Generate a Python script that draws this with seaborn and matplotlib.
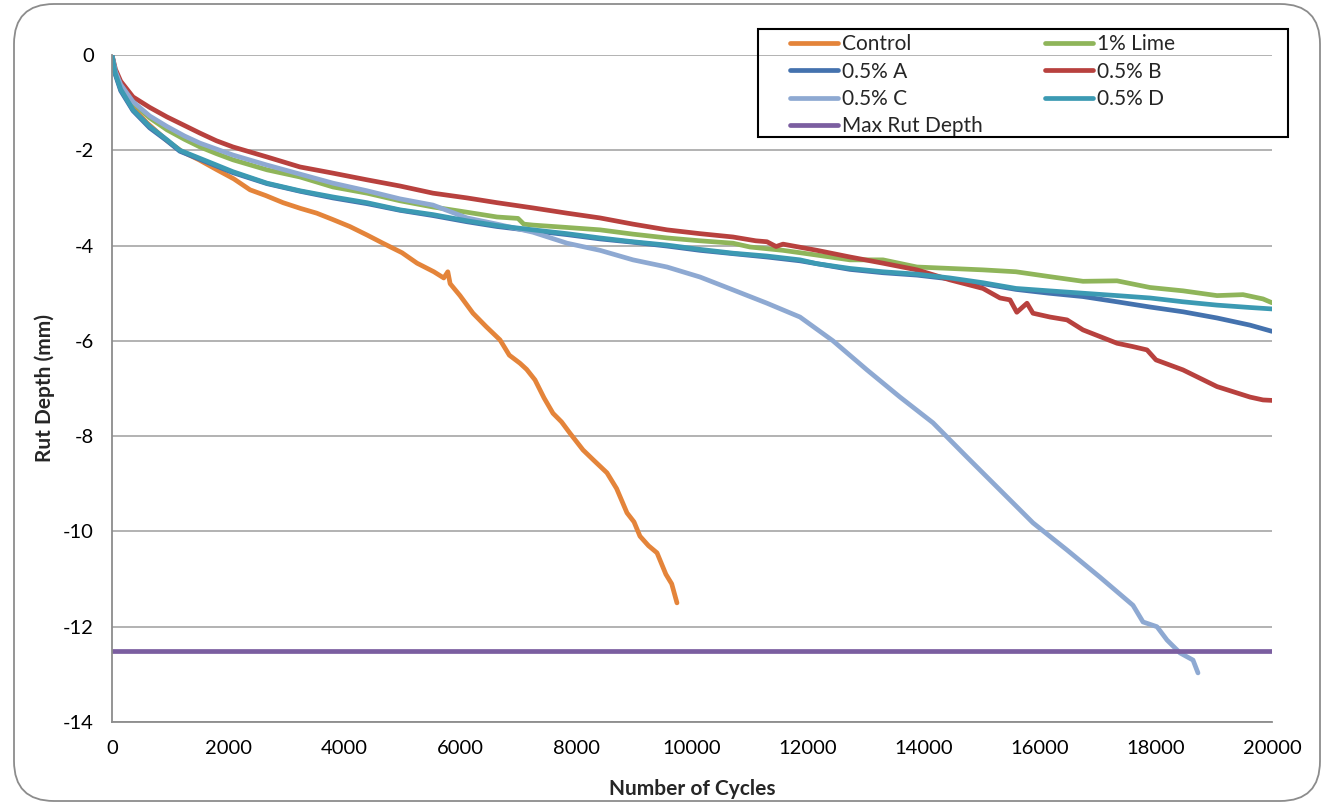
import matplotlib
matplotlib.use("Agg")
import matplotlib.pyplot as plt
from matplotlib.patches import FancyBboxPatch, Rectangle
import seaborn as sns
import pandas as pd

# ---------------- data ----------------
control_x = [0, 50, 150, 350, 600, 950, 1200, 1500, 1810, 2100, 2380, 2650, 2950, 3250, 3530,
             3800, 4100, 4400, 4670, 5000, 5260, 5550, 5720, 5790, 5830, 6000, 6224, 6450, 6690,
             6850, 7034, 7150, 7293, 7450, 7603, 7750, 7897, 8121, 8300, 8534, 8700, 8879, 9000,
             9103, 9250, 9397, 9550, 9650, 9741]
control_y = [0, -0.35, -0.7, -1.08, -1.42, -1.8, -2.02, -2.2, -2.41, -2.6, -2.83, -2.95, -3.1,
             -3.22, -3.32, -3.45, -3.6, -3.78, -3.95, -4.15, -4.37, -4.55, -4.68, -4.55, -4.8,
             -5.05, -5.42, -5.7, -5.98, -6.3, -6.47, -6.6, -6.82, -7.2, -7.52, -7.7, -7.94,
             -8.29, -8.5, -8.77, -9.1, -9.61, -9.8, -10.1, -10.3, -10.45, -10.9, -11.1, -11.5]

lime_x = [0, 60, 150, 362, 650, 948, 1250, 1517, 1800, 2086, 2672, 3241, 3810, 4397, 4966, 5534,
          6121, 6638, 7000, 7100, 7259, 7845, 8414, 8983, 9569, 10138, 10707, 11000, 11569,
          12155, 12724, 13293, 13879, 14448, 15017, 15586, 16155, 16741, 17328, 17897, 18466,
          19052, 19500, 19845, 20000]
lime_y = [0, -0.4, -0.65, -1.0, -1.32, -1.57, -1.77, -1.93, -2.07, -2.2, -2.41, -2.56, -2.77,
          -2.9, -3.06, -3.19, -3.3, -3.4, -3.43, -3.55, -3.57, -3.62, -3.67, -3.76, -3.84, -3.9,
          -3.95, -4.03, -4.1, -4.2, -4.3, -4.3, -4.45, -4.48, -4.51, -4.55, -4.65, -4.75, -4.74,
          -4.88, -4.95, -5.05, -5.03, -5.12, -5.2]

a_x = [0, 60, 150, 362, 650, 948, 1170, 1517, 2086, 2672, 3241, 3810, 4397, 4966, 5534, 6121,
       6638, 7259, 7845, 8414, 8983, 9569, 10138, 10707, 11293, 11862, 12724, 13293, 13879,
       14448, 15017, 15586, 16155, 16741, 17328, 17897, 18466, 19052, 19621, 20000]
a_y = [0, -0.42, -0.75, -1.17, -1.53, -1.8, -2.02, -2.19, -2.47, -2.7, -2.86, -3.0, -3.12,
       -3.26, -3.37, -3.5, -3.6, -3.69, -3.77, -3.86, -3.93, -4.01, -4.1, -4.17, -4.24, -4.32,
       -4.5, -4.57, -4.62, -4.7, -4.8, -4.92, -5.0, -5.07, -5.18, -5.29, -5.39, -5.52, -5.67,
       -5.8]

b_x = [0, 60, 150, 362, 650, 948, 1250, 1517, 1800, 2086, 2672, 3241, 3810, 4397, 4966, 5534,
       6121, 6638, 7259, 7845, 8414, 8983, 9569, 10138, 10707, 11100, 11293, 11450,
       11569, 12155, 12724, 13293, 13879, 14448, 15017, 15310, 15483, 15600, 15776, 15879,
       16172, 16466, 16741, 17328, 17600, 17845, 18000, 18466, 19052, 19621, 19845, 20000]
b_y = [0, -0.3, -0.55, -0.88, -1.1, -1.3, -1.48, -1.64, -1.8, -1.93, -2.14, -2.35, -2.48,
       -2.62, -2.75, -2.9, -3.0, -3.1, -3.21, -3.32, -3.42, -3.55, -3.67, -3.75, -3.82, -3.9,
       -3.92, -4.02, -3.97, -4.1, -4.24, -4.37, -4.51, -4.72, -4.9, -5.1, -5.14, -5.4,
       -5.21, -5.42, -5.5, -5.56, -5.77, -6.05, -6.12, -6.19, -6.4, -6.61, -6.96, -7.18, -7.24,
       -7.25]

c_x = [0, 60, 150, 362, 650, 948, 1250, 1517, 2086, 2672, 3241, 3810, 4397, 4966, 5534, 6121,
       6638, 7259, 7845, 8414, 8983, 9569, 10138, 10707, 11293, 11862, 12431, 13017, 13586,
       14155, 14448, 14741, 15310, 15879, 16466, 17034, 17603, 17776, 18017, 18190, 18414,
       18638, 18724]
c_y = [0, -0.35, -0.62, -0.98, -1.28, -1.5, -1.7, -1.85, -2.1, -2.31, -2.5, -2.69, -2.85,
       -3.02, -3.15, -3.42, -3.55, -3.72, -3.95, -4.1, -4.3, -4.45, -4.66, -4.93, -5.21, -5.5,
       -6.0, -6.61, -7.18, -7.72, -8.08, -8.44, -9.13, -9.82, -10.39, -10.96, -11.55, -11.9,
       -12.0, -12.28, -12.55, -12.7, -12.97]

d_x = [0, 60, 150, 362, 650, 948, 1170, 1517, 2086, 2672, 3241, 3810, 4397, 4966, 5534, 6121,
       6638, 7259, 7845, 8414, 8983, 9569, 10138, 10707, 11293, 11862, 12155, 12724, 13293,
       13879, 14448, 15017, 15586, 16155, 16741, 17328, 17897, 18466, 19052, 19621, 20000]
d_y = [0, -0.4, -0.72, -1.15, -1.5, -1.78, -2.0, -2.17, -2.45, -2.69, -2.85, -2.98, -3.1,
       -3.25, -3.35, -3.48, -3.58, -3.67, -3.75, -3.84, -3.92, -3.99, -4.08, -4.16, -4.22,
       -4.3, -4.38, -4.48, -4.55, -4.6, -4.68, -4.78, -4.9, -4.95, -5.0, -5.05, -5.1, -5.18,
       -5.25, -5.3, -5.33]

max_x = [0, 20000]
max_y = [-12.5, -12.5]

series_names = ["Control", "1% Lime", "0.5% A", "0.5% B", "0.5% C", "0.5% D", "Max Rut Depth"]
series_data = [(control_x, control_y), (lime_x, lime_y), (a_x, a_y), (b_x, b_y),
               (c_x, c_y), (d_x, d_y), (max_x, max_y)]
colors = ["#E4843A", "#8FB55A", "#4472AE", "#B8413E", "#8EA9D2", "#3C9AB3", "#7B5EA0"]

y_ticks = [0, -2, -4, -6, -8, -10, -12, -14]
x_ticks = [0, 2000, 4000, 6000, 8000, 10000, 12000, 14000, 16000, 18000, 20000]

# ---------------- plot ----------------
sns.set_theme(style="white")
plt.rcParams["font.family"] = ["Lato", "DejaVu Sans"]

W, H = 1332, 806
fig = plt.figure(figsize=(W / 100, H / 100), dpi=100)
ax = fig.add_axes([112 / W, 1 - 722 / H, 1160 / W, 667 / H])

# rounded outer border
border = FancyBboxPatch((14 / W, 5 / H), 1306 / W, 797 / H,
                        boxstyle="round,pad=0,rounding_size=0.03",
                        transform=fig.transFigure, fill=False,
                        edgecolor="#8C8C8C", linewidth=1.3, mutation_aspect=W / H)
fig.patches.append(border)

for name, (xs, ys), col in zip(series_names, series_data, colors):
    df = pd.DataFrame({"x": xs, "y": ys})
    sns.lineplot(data=df, x="x", y="y", ax=ax, color=col, linewidth=3.4,
                 estimator=None, sort=False, label=name, solid_capstyle="round")

ax.set_xlim(0, 20000)
ax.set_ylim(-14, 0)
ax.set_xticks(x_ticks)
ax.set_yticks(y_ticks)
ax.set_xticklabels([str(t) for t in x_ticks])
ax.set_yticklabels([str(t) for t in y_ticks])
ax.yaxis.grid(True, color="#A6A6A6", linewidth=1.2)
ax.xaxis.grid(False)
ax.set_axisbelow(True)
for s in ["top", "right"]:
    ax.spines[s].set_visible(False)
for s in ["left", "bottom"]:
    ax.spines[s].set_color("#8C8C8C")
    ax.spines[s].set_linewidth(1.3)
ax.tick_params(axis="both", which="major", labelsize=14.5, colors="#8C8C8C",
               labelcolor="black", length=6, width=1.3, direction="out")
ax.tick_params(axis="x", pad=7)
ax.tick_params(axis="y", pad=7)

ax.set_xlabel("Number of Cycles", fontsize=15, fontweight="bold", labelpad=16)
ax.set_ylabel("Rut Depth (mm)", fontsize=15, fontweight="bold", labelpad=6)

# legend, row-major look with 2 columns
h, l = ax.get_legend_handles_labels()
lookup = dict(zip(l, h))
ax.get_legend().remove()
order = ["Control", "0.5% A", "0.5% C", "Max Rut Depth", "1% Lime", "0.5% B", "0.5% D"]
leg = fig.legend([lookup[k] for k in order], order, ncol=2,
                 loc="upper left", bbox_to_anchor=(790 / W, 1 - 34 / H),
                 frameon=False, fontsize=15,
                 handlelength=2.3, handletextpad=0.2, columnspacing=3.0,
                 labelspacing=0.36, borderpad=0.0, borderaxespad=0)
fig.patches.append(Rectangle((758 / W, 1 - 137 / H), 530 / W, 108 / H,
                             transform=fig.transFigure, fill=False,
                             edgecolor="black", linewidth=1.5, zorder=5))

fig.savefig("out.png", dpi=100)
